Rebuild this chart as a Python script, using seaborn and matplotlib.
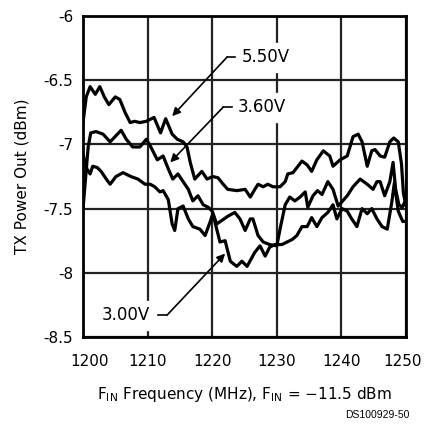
import numpy as np
import pandas as pd
import seaborn as sns
import matplotlib.pyplot as plt
from matplotlib.transforms import ScaledTranslation

# values, MHz / dBm
f_550 = [1200.0, 1200.5, 1201.1, 1201.9, 1202.6, 1203.3, 1204.0, 1205.0, 1205.7, 1206.5,
         1207.3, 1208.0, 1208.8, 1209.8, 1211.0, 1212.0, 1212.8, 1213.8, 1214.6, 1215.5,
         1216.1, 1216.6, 1217.3, 1218.4, 1219.2, 1220.1, 1220.9, 1221.7, 1222.4, 1223.8,
         1225.1, 1225.9, 1226.6, 1227.1, 1227.9, 1228.6, 1229.4, 1230.5, 1231.3, 1231.7,
         1232.5, 1233.9, 1234.7, 1235.4, 1236.2, 1237.2, 1238.2, 1238.7, 1239.8, 1240.9,
         1241.8, 1242.6, 1243.2, 1244.0, 1244.7, 1245.2, 1246.0, 1246.7, 1247.5, 1248.1,
         1248.8, 1249.3, 1249.6, 1250.0]
p_550 = [-6.83, -6.63, -6.55, -6.61, -6.55, -6.63, -6.69, -6.63, -6.65, -6.75,
         -6.83, -6.82, -6.83, -6.82, -6.79, -6.91, -6.80, -6.92, -6.96, -6.98,
         -7.02, -7.14, -7.27, -7.21, -7.27, -7.25, -7.26, -7.31, -7.35, -7.36,
         -7.35, -7.41, -7.35, -7.31, -7.33, -7.31, -7.33, -7.33, -7.29, -7.23,
         -7.22, -7.13, -7.16, -7.21, -7.12, -7.05, -7.09, -7.17, -7.12, -7.09,
         -6.94, -6.92, -6.98, -7.17, -7.05, -7.04, -7.09, -7.10, -6.98, -6.95,
         -6.98, -7.15, -7.38, -7.48]

f_360 = [1200.0, 1200.8, 1201.2, 1202.0, 1203.1, 1204.2, 1205.9, 1206.7, 1207.7, 1208.8,
         1209.8, 1210.5, 1211.5, 1212.4, 1213.2, 1213.9, 1214.7, 1215.5, 1216.3, 1217.0,
         1217.8, 1218.6, 1219.4, 1220.0, 1220.7, 1222.4, 1223.5, 1224.3, 1225.1, 1225.9,
         1226.3, 1227.1, 1227.9, 1228.9, 1230.0, 1230.5, 1231.3, 1232.0, 1232.8, 1233.6,
         1234.4, 1234.8, 1235.6, 1236.3, 1237.0, 1237.9, 1238.7, 1239.5, 1240.9, 1241.8,
         1242.9, 1244.0, 1244.9, 1245.5, 1246.0, 1246.7, 1247.5, 1248.0, 1248.4, 1248.9,
         1249.4, 1250.0]
p_360 = [-7.50, -7.02, -6.91, -6.90, -6.92, -6.98, -6.89, -6.96, -7.02, -7.02,
         -6.96, -7.02, -7.12, -7.09, -7.19, -7.27, -7.23, -7.29, -7.35, -7.44,
         -7.40, -7.47, -7.49, -7.52, -7.62, -7.56, -7.53, -7.58, -7.67, -7.58,
         -7.58, -7.71, -7.76, -7.78, -7.79, -7.66, -7.47, -7.41, -7.44, -7.41,
         -7.37, -7.49, -7.40, -7.36, -7.39, -7.29, -7.35, -7.48, -7.40, -7.33,
         -7.27, -7.31, -7.35, -7.29, -7.29, -7.40, -7.29, -7.14, -7.35, -7.47,
         -7.49, -7.43]

f_300 = [1200.0, 1200.6, 1201.1, 1201.5, 1202.2, 1202.8, 1203.6, 1204.2, 1205.1, 1206.2,
         1207.4, 1208.5, 1209.6, 1210.4, 1211.1, 1211.9, 1212.4, 1213.2, 1213.8, 1214.2,
         1214.7, 1215.5, 1216.3, 1217.0, 1218.1, 1218.9, 1219.7, 1220.1, 1221.2, 1222.0,
         1222.8, 1223.8, 1224.6, 1225.4, 1226.6, 1227.4, 1228.2, 1228.9, 1229.7, 1230.8,
         1231.6, 1232.4, 1233.1, 1233.9, 1234.7, 1235.4, 1236.2, 1237.0, 1237.9, 1238.7,
         1239.3, 1240.1, 1240.9, 1241.6, 1242.4, 1243.2, 1244.0, 1244.7, 1245.5, 1246.3,
         1247.1, 1247.8, 1248.2, 1248.8, 1249.5, 1250.0]
p_300 = [-7.08, -7.19, -7.23, -7.17, -7.18, -7.21, -7.27, -7.31, -7.25, -7.22,
         -7.25, -7.27, -7.31, -7.31, -7.33, -7.37, -7.36, -7.43, -7.62, -7.67,
         -7.50, -7.48, -7.58, -7.64, -7.66, -7.71, -7.60, -7.54, -7.76, -7.75,
         -7.91, -7.95, -7.91, -7.95, -7.84, -7.79, -7.87, -7.80, -7.78, -7.78,
         -7.76, -7.74, -7.71, -7.64, -7.64, -7.57, -7.64, -7.57, -7.53, -7.47,
         -7.58, -7.50, -7.52, -7.58, -7.64, -7.50, -7.54, -7.50, -7.58, -7.64,
         -7.66, -7.45, -7.30, -7.52, -7.60, -7.60]

x_ticks = [1200, 1210, 1220, 1230, 1240, 1250]
y_ticks = [-6, -6.5, -7, -7.5, -8, -8.5]
y_ticklabels = ["-6", "-6.5", "-7", "-7.5", "-8", "-8.5"]

# label text, arrow tip, elbow, end of the short dash
labels = ["5.50V", "3.60V", "3.00V"]
tips = [(1213.8, -6.78), (1213.5, -7.14), (1222.0, -7.85)]
elbows = [(1222.3, -6.32), (1221.7, -6.71), (1213.0, -8.33)]
dash_ends = [(1224.2, -6.32), (1223.6, -6.71), (1210.8, -8.33)]

sns.set_style("white")
plt.rcParams['font.family'] = ['DejaVu Sans']
plt.rcParams['text.color'] = 'black'
plt.rcParams['axes.labelcolor'] = 'black'
plt.rcParams['xtick.color'] = 'black'
plt.rcParams['ytick.color'] = 'black'

fig = plt.figure(figsize=(4.27, 4.28), dpi=100)
ax = fig.add_axes([0.1944, 0.2126, 0.7564, 0.75])

for f, p in [(f_550, p_550), (f_360, p_360), (f_300, p_300)]:
    d = pd.DataFrame({'f': f, 'p': p})
    sns.lineplot(data=d, x='f', y='p', ax=ax, color='black', lw=2.3,
                 sort=False, estimator=None, solid_joinstyle='round')

ax.set_xlim(1200, 1250)
ax.set_ylim(-8.5, -6)
ax.set_xticks(x_ticks)
ax.set_xticklabels([str(t) for t in x_ticks], fontsize=11)
ax.set_yticks(y_ticks)
ax.set_yticklabels(y_ticklabels, fontsize=11)
ax.tick_params(axis='x', length=0, pad=12)
ax.tick_params(axis='y', length=0, pad=7)
# first tick label sits a bit right of its gridline
lab0 = ax.get_xticklabels()[0]
lab0.set_transform(lab0.get_transform() + ScaledTranslation(7 / 100, 0, fig.dpi_scale_trans))
labN = ax.get_xticklabels()[-1]
labN.set_transform(labN.get_transform() + ScaledTranslation(-3 / 100, 0, fig.dpi_scale_trans))

ax.grid(True, color='#222222', lw=1.6)
for s in ax.spines.values():
    s.set_color('black')
    s.set_linewidth(2)

ax.set_xlabel(r'F$_{\mathrm{IN}}$ Frequency (MHz), F$_{\mathrm{IN}}$ = $-$11.5 dBm',
              fontsize=11, labelpad=12)
ax.set_ylabel('TX Power Out (dBm)', fontsize=11, labelpad=10)

for lab, tip, elb, de in zip(labels, tips, elbows, dash_ends):
    ax.annotate('', xy=tip, xytext=elb,
                arrowprops=dict(arrowstyle='-|>', color='black', lw=1.2,
                                mutation_scale=12, shrinkA=0, shrinkB=0))
    ax.plot([elb[0], de[0]], [elb[1], de[1]], color='black', lw=1.2)
    if de[0] > elb[0]:
        ax.text(de[0] + 0.4, de[1], lab, ha='left', va='center', fontsize=12,
                backgroundcolor='white')
    else:
        ax.text(de[0] - 0.4, de[1], lab, ha='right', va='center', fontsize=12,
                backgroundcolor='white')

fig.text(0.96, 0.018, 'DS100929-50', ha='right', va='bottom', fontsize=7.5,
         family='Liberation Sans')

fig.savefig('out.png', dpi=100)
